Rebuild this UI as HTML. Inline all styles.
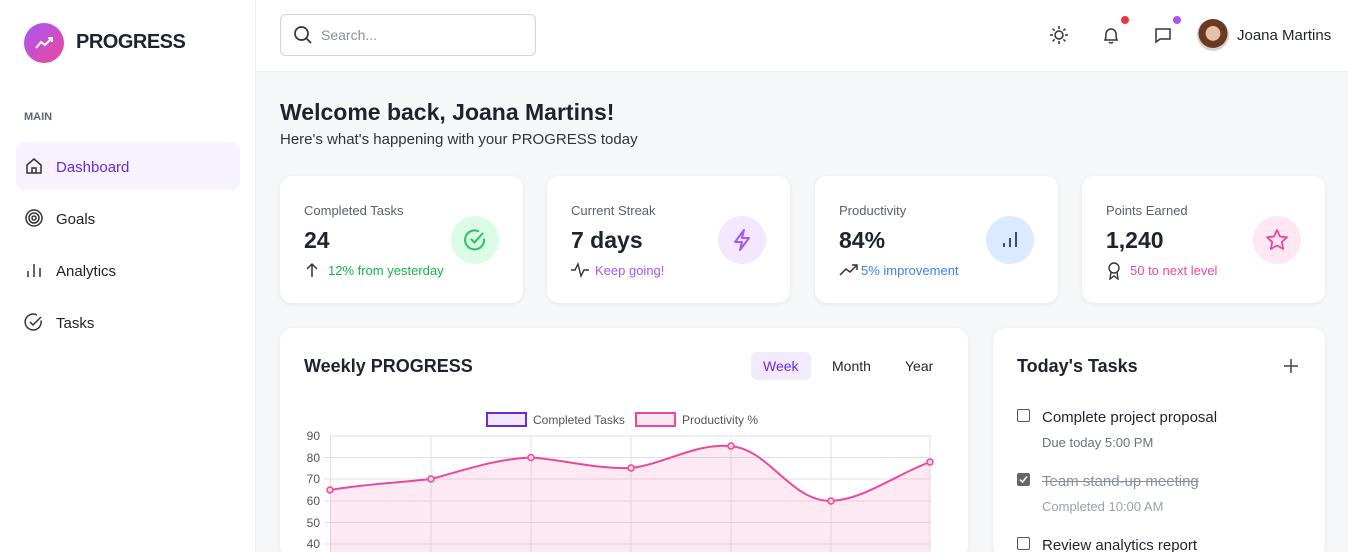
<!DOCTYPE html>
<html style="width:1348px;height:552px;overflow:hidden"><head><meta charset="utf-8"><style>
*{box-sizing:border-box;margin:0;padding:0}
body{width:1348px;height:552px;overflow:hidden;font-family:"Liberation Sans",sans-serif;background:#f6f7f9;position:relative;color:#1f2330}
.side{position:absolute;left:0;top:0;width:256px;height:552px;background:#fff;border-right:1px solid #eceef1}
.logo{position:absolute;left:24px;top:23px;width:40px;height:40px;border-radius:50%;background:linear-gradient(135deg,#a855f7,#ec4899)}
.brand{position:absolute;left:76px;top:31px;font-size:20px;font-weight:bold;letter-spacing:-0.5px}
.main-l{position:absolute;left:24px;top:111px;font-size:11px;font-weight:bold;color:#5f6673}
.nav{position:absolute;left:16px;width:224px;height:48px;border-radius:8px;font-size:15px;padding:17px 0 0 40px;color:#222}
.nav svg{position:absolute;left:8px;top:14px}
.hdr{position:absolute;left:256px;top:0;width:1092px;height:72px;background:#fff;border-bottom:1px solid #eceef1}
.search{position:absolute;left:24px;top:14px;width:256px;height:42px;border:1px solid #cfd3da;border-radius:6px;font-size:14px;color:#8a909b;padding:12px 0 0 40px}
.card{position:absolute;background:#fff;border-radius:12px;box-shadow:0 1px 4px rgba(0,0,0,.08)}
.stat .t{position:absolute;left:24px;top:27px;font-size:13px;color:#5a606b}
.stat .v{position:absolute;left:24px;top:51px;font-size:23px;font-weight:bold}
.stat .s{position:absolute;left:48px;top:87px;font-size:13px}
.stat .ic{position:absolute;left:171px;top:40px;width:48px;height:48px;border-radius:50%}
.stat .si{position:absolute;left:24px;top:86px}
.tab{position:absolute;top:352px;height:28px;font-size:14px;padding:6px 12px;border-radius:6px}
.task{position:absolute;left:1042px;font-size:15px}
.sub{position:absolute;left:1042px;font-size:13px;color:#6b7280}
.cb{position:absolute;left:1017px;width:13px;height:13px;border:1.5px solid #555;border-radius:2px}
</style></head><body>
<div class="side">
<div class="logo"><svg width="40" height="40"><polyline points="12,25 17,19 21,22 28,15" fill="none" stroke="#fff" stroke-width="2"/><polyline points="24,15 28,15 28,19" fill="none" stroke="#fff" stroke-width="2"/></svg></div>
<div class="brand">PROGRESS</div>
<div class="main-l">MAIN</div>
<div class="nav" style="top:142px;background:#f7f2fd;color:#6d28d9">Dashboard<svg width="20" height="20" viewBox="0 0 20 20"><path d="M3 9 L10 3 L17 9 V17 H3Z M8 17 V12 H12 V17" fill="none" stroke="#333" stroke-width="1.5"/></svg></div>
<div class="nav" style="top:194px">Goals<svg width="20" height="20"><circle cx="10" cy="10" r="8" fill="none" stroke="#333" stroke-width="1.5"/><circle cx="10" cy="10" r="5" fill="none" stroke="#333" stroke-width="1.5"/><circle cx="10" cy="10" r="2" fill="none" stroke="#333" stroke-width="1.5"/></svg></div>
<div class="nav" style="top:246px">Analytics<svg width="20" height="20"><path d="M4 17V11M10 17V4M16 17V8" stroke="#333" stroke-width="1.5"/></svg></div>
<div class="nav" style="top:298px">Tasks<svg width="20" height="20"><path d="M17 8.5 A8 8 0 1 1 13 3" fill="none" stroke="#333" stroke-width="1.5"/><polyline points="6,10 9,13 17,5" fill="none" stroke="#333" stroke-width="1.5"/></svg></div>
</div>
<div class="hdr">
<div class="search">Search...<svg style="position:absolute;left:12px;top:10px" width="20" height="20"><circle cx="8.5" cy="8.5" r="6.5" fill="none" stroke="#333" stroke-width="1.7"/><line x1="13" y1="13" x2="18" y2="18" stroke="#333" stroke-width="1.7"/></svg></div>
<svg style="position:absolute;left:793px;top:25px" width="20" height="20"><circle cx="10" cy="10" r="4" fill="none" stroke="#333" stroke-width="1.5"/><path d="M10 1v3M10 16v3M1 10h3M16 10h3M3.6 3.6l2 2M14.4 14.4l2 2M3.6 16.4l2-2M14.4 5.6l2-2" stroke="#333" stroke-width="1.5"/></svg>
<svg style="position:absolute;left:845px;top:25px" width="20" height="20"><path d="M4 15 Q5 13 5 9 A5 5 0 0 1 15 9 Q15 13 16 15Z M8 17 Q10 19 12 17" fill="none" stroke="#333" stroke-width="1.5"/></svg>
<div style="position:absolute;left:865px;top:16px;width:8px;height:8px;border-radius:50%;background:#ef3340"></div>
<svg style="position:absolute;left:897px;top:25px" width="20" height="20"><path d="M3 4h14v10H7l-4 3z" fill="none" stroke="#333" stroke-width="1.5"/></svg>
<div style="position:absolute;left:917px;top:16px;width:8px;height:8px;border-radius:50%;background:#a855f7"></div>
<div style="position:absolute;left:941px;top:19px;width:32px;height:32px;border-radius:50%;background:radial-gradient(circle at 50% 45%,#e8c0a8 0 30%,#6b3a22 32% 60%,#d8d4ce 62%)"></div>
<div style="position:absolute;left:981px;top:27px;font-size:15px">Joana Martins</div>
</div>
<div style="position:absolute;left:280px;top:99px;font-size:23px;font-weight:bold">Welcome back, Joana Martins!</div>
<div style="position:absolute;left:280px;top:131px;font-size:15px;color:#333">Here's what's happening with your PROGRESS today</div>

<div class="card stat" style="left:280px;top:176px;width:243px;height:127px"><div class="t">Completed Tasks</div><div class="v">24</div>
<svg class="si" width="16" height="16"><path d="M8 15V2M3 7l5-5 5 5" fill="none" stroke="#333" stroke-width="1.5"/></svg><div class="s" style="left:48px;color:#16b34a">12% from yesterday</div>
<div class="ic" style="background:#dcfce7"><svg width="48" height="48"><path d="M33 22.5 A9.5 9.5 0 1 1 28 15.5" fill="none" stroke="#22c55e" stroke-width="2"/><polyline points="20,23 23.5,26.5 32,17" fill="none" stroke="#22c55e" stroke-width="2"/></svg></div></div>

<div class="card stat" style="left:547px;top:176px;width:243px;height:127px"><div class="t">Current Streak</div><div class="v">7 days</div>
<svg class="si" width="18" height="16"><polyline points="0,8 4,8 7,2 10,14 13,8 18,8" fill="none" stroke="#333" stroke-width="1.4"/></svg><div class="s" style="color:#a855f7">Keep going!</div>
<div class="ic" style="background:#f3e8ff"><svg width="48" height="48"><path d="M26 14 L17 26 H24 L22 34 L31 22 H24Z" fill="none" stroke="#a855f7" stroke-width="2" stroke-linejoin="round"/></svg></div></div>

<div class="card stat" style="left:815px;top:176px;width:243px;height:127px"><div class="t">Productivity</div><div class="v">84%</div>
<svg class="si" width="20" height="16"><polyline points="1,13 7,7 11,10 18,3" fill="none" stroke="#333" stroke-width="1.5"/><polyline points="13,3 18,3 18,8" fill="none" stroke="#333" stroke-width="1.5"/></svg><div class="s" style="color:#3b82f6;left:46px">5% improvement</div>
<div class="ic" style="background:#dbeafe"><svg width="48" height="48"><path d="M18 31V27M24 31V22M30 31V16" stroke="#3b4a80" stroke-width="2"/></svg></div></div>

<div class="card stat" style="left:1082px;top:176px;width:243px;height:127px"><div class="t">Points Earned</div><div class="v">1,240</div>
<svg class="si" width="16" height="18"><circle cx="8" cy="6" r="5" fill="none" stroke="#333" stroke-width="1.4"/><path d="M5 10 L4 17 L8 14 L12 17 L11 10" fill="none" stroke="#333" stroke-width="1.4"/></svg><div class="s" style="color:#ec4899">50 to next level</div>
<div class="ic" style="background:#fce7f3"><svg width="48" height="48"><path d="M24 14 L27 20.5 L34 21.3 L28.8 26 L30.2 33 L24 29.5 L17.8 33 L19.2 26 L14 21.3 L21 20.5Z" fill="none" stroke="#ec4899" stroke-width="1.8" stroke-linejoin="round"/></svg></div></div>

<div class="card" style="left:280px;top:328px;width:688px;height:230px"></div>
<div style="position:absolute;left:304px;top:356px;font-size:18px;font-weight:bold">Weekly PROGRESS</div>
<div class="tab" style="left:751px;background:#f3ebfd;color:#6d28d9">Week</div>
<div class="tab" style="left:820px">Month</div>
<div class="tab" style="left:893px">Year</div>
<svg style="position:absolute;left:280px;top:400px" width="688" height="152">
<rect x="207" y="13" width="39" height="13" fill="#efe8fb" stroke="#6d28d9" stroke-width="2"/>
<text x="253" y="24" font-size="12" fill="#555" font-family="Liberation Sans">Completed Tasks</text>
<rect x="356" y="13" width="39" height="13" fill="#fce7f0" stroke="#ec4899" stroke-width="2"/>
<text x="402" y="24" font-size="12" fill="#555" font-family="Liberation Sans">Productivity %</text>
<g stroke="#e2e2e2" stroke-width="1">
<line x1="50" y1="36" x2="650" y2="36"/><line x1="44" y1="57.5" x2="650" y2="57.5"/><line x1="44" y1="79" x2="650" y2="79"/><line x1="44" y1="101" x2="650" y2="101"/><line x1="44" y1="122.5" x2="650" y2="122.5"/><line x1="44" y1="144" x2="650" y2="144"/>
<line x1="50.5" y1="36" x2="50.5" y2="152"/><line x1="151" y1="36" x2="151" y2="152"/><line x1="251" y1="36" x2="251" y2="152"/><line x1="351" y1="36" x2="351" y2="152"/><line x1="451" y1="36" x2="451" y2="152"/><line x1="551" y1="36" x2="551" y2="152"/><line x1="650" y1="36" x2="650" y2="152"/>
</g>
<g font-size="12" fill="#555" text-anchor="end" font-family="Liberation Sans"><text x="40" y="40">90</text><text x="40" y="62">80</text><text x="40" y="83">70</text><text x="40" y="105">60</text><text x="40" y="127">50</text><text x="40" y="148">40</text></g>
<path d="M50 90 C85 84,115 83,151 79 C185 70,215 59,251 57.5 C285 60,315 69,351 68 C385 64,415 43,451 46 C490 50,510 101,551 101 C585 99,615 75,650 62 L650 152 L50 152Z" fill="rgba(236,72,153,.12)"/>
<path d="M50 90 C85 84,115 83,151 79 C185 70,215 59,251 57.5 C285 60,315 69,351 68 C385 64,415 43,451 46 C490 50,510 101,551 101 C585 99,615 75,650 62" fill="none" stroke="#ec4899" stroke-width="2"/>
<g fill="#fbd3e6" stroke="#ec4899" stroke-width="1.5"><circle cx="50" cy="90" r="3"/><circle cx="151" cy="79" r="3"/><circle cx="251" cy="57.5" r="3"/><circle cx="351" cy="68" r="3"/><circle cx="451" cy="46" r="3"/><circle cx="551" cy="101" r="3"/><circle cx="650" cy="62" r="3"/></g>
</svg>

<div class="card" style="left:993px;top:328px;width:332px;height:230px"></div>
<div style="position:absolute;left:1017px;top:356px;font-size:18px;font-weight:bold">Today's Tasks</div>
<svg style="position:absolute;left:1283px;top:358px" width="16" height="16"><path d="M8 1v14M1 8h14" stroke="#444" stroke-width="1.5"/></svg>
<div class="cb" style="top:409px"></div><div class="task" style="top:409px">Complete project proposal</div><div class="sub" style="top:435px">Due today 5:00 PM</div>
<div class="cb" style="top:473px;background:#666;border-color:#666"><svg width="11" height="11" style="position:absolute;left:0;top:0"><polyline points="2,5.5 4.5,8 9,2.5" fill="none" stroke="#fff" stroke-width="1.5"/></svg></div>
<div class="task" style="top:473px;color:#8a909b;text-decoration:line-through">Team stand-up meeting</div><div class="sub" style="top:499px;color:#9aa0aa">Completed 10:00 AM</div>
<div class="cb" style="top:537px"></div><div class="task" style="top:537px">Review analytics report</div>
</body></html>
